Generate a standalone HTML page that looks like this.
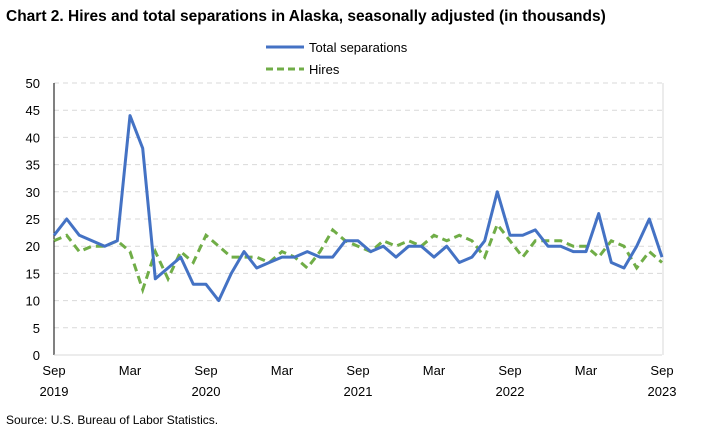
<!DOCTYPE html>
<html><head><meta charset="utf-8"><style>
body{margin:0;background:#fff;font-family:"Liberation Sans",sans-serif;}
svg text{font-family:"Liberation Sans",sans-serif;}
</style></head><body>
<svg width="703" height="432">
<text x="6" y="21" font-size="15.5" font-weight="bold" fill="#000">Chart 2. Hires and total separations in Alaska, seasonally adjusted (in thousands)</text>
<g>
<line x1="266" y1="47" x2="304" y2="47" stroke="#4472C4" stroke-width="3"/>
<text x="309" y="52" font-size="13">Total separations</text>
<line x1="266" y1="69" x2="304" y2="69" stroke="#70AD47" stroke-width="3" stroke-dasharray="7,4"/>
<text x="309" y="74" font-size="13">Hires</text>
</g>
<g id="grid"></g><g id="axes"></g><g id="series"></g>
<text x="6" y="424" font-size="12">Source: U.S. Bureau of Labor Statistics.</text>
</svg>
<script>
const months = 49;
const separations = [22,25,22,21,20,21,44,38,14,16,18,13,13,10,15,19,16,17,18,18,19,18,18,21,21,19,20,18,20,20,18,20,17,18,21,30,22,22,23,20,20,19,19,26,17,16,20,25,18];
const hires = [21,22,19,20,20,21,19,12,19,14,19,17,22,20,18,18,18,17,19,18,16,19,23,21,20,19,21,20,21,20,22,21,22,21,18,24,21,18,21,21,21,20,20,18,21,20,16,19,17];
const yTicks = [0,5,10,15,20,25,30,35,40,45,50];
const xLabels = [[0,"Sep","2019"],[6,"Mar",""],[12,"Sep","2020"],[18,"Mar",""],[24,"Sep","2021"],[30,"Mar",""],[36,"Sep","2022"],[42,"Mar",""],[48,"Sep","2023"]];
const x0=54,x1=662,y0=355,y1=83;
const X=i=>x0+(x1-x0)*i/(months-1);
const Y=v=>y0-(y0-y1)*v/50;
const NS="http://www.w3.org/2000/svg";
function mk(t,a,p){const e=document.createElementNS(NS,t);for(const k in a)e.setAttribute(k,a[k]);p.appendChild(e);return e;}
const grid=document.getElementById('grid'),axes=document.getElementById('axes'),ser=document.getElementById('series');
yTicks.forEach(v=>{
 if(v>0){const l=mk('line',{x1:x0,x2:x1,y1:Y(v),y2:Y(v),stroke:'#d9d9d9','stroke-dasharray':'5,4'},grid);
 
 }
 const t=mk('text',{x:40,y:Y(v)+5,'font-size':13,'text-anchor':'end'},axes);t.textContent=v;
 
 
});
const rb=mk('line',{x1:x1+1,x2:x1+1,y1:y1,y2:y0,stroke:'#d9d9d9'},axes);


const ax=mk('line',{x1:x0,x2:x0,y1:y1,y2:y0,stroke:'#000'},axes);


const bx=mk('line',{x1:x0,x2:x1,y1:y0,y2:y0,stroke:'#d9d9d9'},axes);


xLabels.forEach(([i,m,yr])=>{
 const t=mk('text',{x:X(i),y:375,'font-size':13,'text-anchor':'middle'},axes);t.textContent=m;
 
 
 if(yr){const u=mk('text',{x:X(i),y:396,'font-size':13,'text-anchor':'middle'},axes);u.textContent=yr;
 
 }
});
const pts=a=>a.map((v,i)=>X(i).toFixed(1)+','+Y(v).toFixed(1)).join(' ');
const h=mk('polyline',{points:pts(hires),fill:'none',stroke:'#70AD47','stroke-width':3,'stroke-dasharray':'8,5'},ser);


const s=mk('polyline',{points:pts(separations),fill:'none',stroke:'#4472C4','stroke-width':3,'stroke-linejoin':'round'},ser);


</script>
</body></html>
